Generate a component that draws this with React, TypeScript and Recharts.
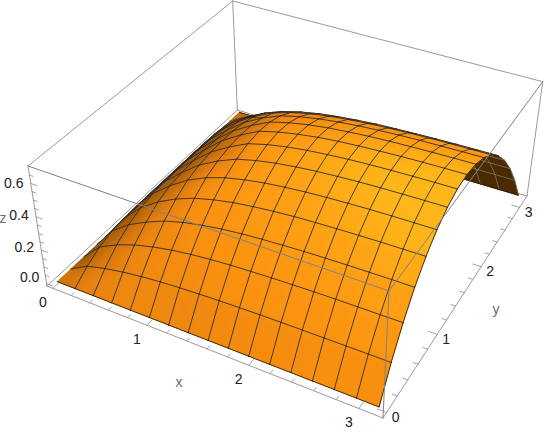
import React from 'react';
import { ScatterChart, Scatter, XAxis, YAxis } from 'recharts';

// ---- data ----
const xSamples = [0, 0.196, 0.393, 0.589, 0.785, 0.982, 1.178, 1.374, 1.571, 1.767, 1.963, 2.16, 2.356, 2.553, 2.749, 2.945, 3.142];
const ySamples = [0, 0.196, 0.393, 0.589, 0.785, 0.982, 1.178, 1.374, 1.571, 1.767, 1.963, 2.16, 2.356, 2.553, 2.749, 2.945, 3.142];
// z along y from the y=0 edge to the ridge, one row per x sample; the far half mirrors it
const zRow00 = [0, 0, 0, 0, 0, 0, 0, 0, 0];
const zRow01 = [0, 0.058, 0.098, 0.122, 0.131, 0.134, 0.135, 0.135, 0.135];
const zRow02 = [0, 0.085, 0.152, 0.2, 0.232, 0.247, 0.253, 0.255, 0.255];
const zRow03 = [0, 0.105, 0.191, 0.255, 0.305, 0.333, 0.345, 0.35, 0.352];
const zRow04 = [0, 0.12, 0.22, 0.301, 0.362, 0.405, 0.428, 0.44, 0.444];
const zRow05 = [0, 0.131, 0.242, 0.333, 0.405, 0.458, 0.49, 0.508, 0.514];
const zRow06 = [0, 0.139, 0.258, 0.356, 0.435, 0.496, 0.539, 0.565, 0.574];
const zRow07 = [0, 0.145, 0.27, 0.374, 0.458, 0.522, 0.568, 0.596, 0.605];
const zRow08 = [0, 0.15, 0.279, 0.387, 0.474, 0.542, 0.59, 0.619, 0.628];
const zRow09 = [0, 0.153, 0.285, 0.396, 0.486, 0.556, 0.606, 0.636, 0.646];
const zRow10 = [0, 0.156, 0.29, 0.403, 0.496, 0.567, 0.618, 0.648, 0.659];
const zRow11 = [0, 0.158, 0.294, 0.409, 0.502, 0.575, 0.627, 0.658, 0.668];
const zRow12 = [0, 0.159, 0.297, 0.413, 0.507, 0.581, 0.634, 0.665, 0.675];
const zRow13 = [0, 0.16, 0.299, 0.416, 0.511, 0.586, 0.639, 0.67, 0.681];
const zRow14 = [0, 0.161, 0.3, 0.418, 0.514, 0.589, 0.642, 0.674, 0.685];
const zRow15 = [0, 0.162, 0.301, 0.42, 0.516, 0.591, 0.645, 0.677, 0.688];
const zRow16 = [0, 0.162, 0.302, 0.421, 0.518, 0.593, 0.647, 0.679, 0.69];
const zRows = [zRow00, zRow01, zRow02, zRow03, zRow04, zRow05, zRow06, zRow07, zRow08, zRow09, zRow10, zRow11, zRow12, zRow13, zRow14, zRow15, zRow16];
const zPeak = 0.69;
const xyMax = 3.142;
const xTicks = [0, 1, 2, 3];
const yTicks = [0, 1, 2, 3];
const zTicks = [0, 0.2, 0.4, 0.6];
const zTickLabels = ['0.0', '0.2', '0.4', '0.6'];
const zLabelDy = [-6.6, -3, -2, 0];

// ---- view: the eight corners of the box as seen on the page ----
const W = 545, H = 436;
type P = [number, number];
const floorCorners: P[] = [[47, 286], [383, 418], [527, 196], [237.3, 110]];
const roofCorners: P[] = [[28, 166], [389, 291], [542.7, 81.7], [232.7, 1]];

function homography(q: P[]) {
  const [a, b, c, d] = q;
  const dx1 = b[0] - c[0], dx2 = d[0] - c[0], sx = a[0] - b[0] + c[0] - d[0];
  const dy1 = b[1] - c[1], dy2 = d[1] - c[1], sy = a[1] - b[1] + c[1] - d[1];
  const den = dx1 * dy2 - dx2 * dy1;
  const g = (sx * dy2 - dx2 * sy) / den;
  const h = (dx1 * sy - sx * dy1) / den;
  return (u: number, v: number): P => {
    const w = g * u + h * v + 1;
    return [
      ((b[0] * (1 + g) - a[0]) * u + (d[0] * (1 + h) - a[0]) * v + a[0]) / w,
      ((b[1] * (1 + g) - a[1]) * u + (d[1] * (1 + h) - a[1]) * v + a[1]) / w,
    ];
  };
}
const floorH = homography(floorCorners);
const roofH = homography(roofCorners);
const projBox = (u: number, v: number, w: number): P => {
  const f = floorH(u, v), r = roofH(u, v);
  return [f[0] + (r[0] - f[0]) * w, f[1] + (r[1] - f[1]) * w];
};
const toU = (x: number) => 0.02 + (0.96 * x) / xyMax;
const toW = (z: number) => 0.02 + (0.96 * z) / zPeak;
const proj = (x: number, y: number, z: number) => projBox(toU(x), toU(y), toW(z));

// ---- geometry derived from the arrays ----
const zAt = (i: number, j: number) => zRows[i][j <= 8 ? j : 16 - j];
const grid = xSamples.map((x, i) => ySamples.map((y, j) => proj(x, y, zAt(i, j))));

const ramp: [number, number, number, number][] = [
  [0, 60, 35, 0], [0.3, 150, 85, 5], [0.55, 225, 125, 15], [0.7, 250, 145, 15], [0.85, 255, 160, 20], [1, 255, 182, 25],
];
function rampColor(t: number) {
  const c = Math.max(0, Math.min(1, t));
  for (let k = 1; k < ramp.length; k++) {
    if (c <= ramp[k][0]) {
      const a = ramp[k - 1], b = ramp[k];
      const f = (c - a[0]) / (b[0] - a[0]);
      return `rgb(${a[1] + (b[1] - a[1]) * f},${a[2] + (b[2] - a[2]) * f},${a[3] + (b[3] - a[3]) * f})`;
    }
  }
  return 'rgb(255,182,25)';
}

type Facet = { px: number; py: number; poly: P[]; fill: string };
const frontFacets: Facet[] = [];
const backFacets: Facet[] = [];
const isFront: boolean[][] = [];
for (let i = 0; i < xSamples.length - 1; i++) {
  isFront.push([]);
  for (let j = 0; j < ySamples.length - 1; j++) {
    const q = [grid[i][j], grid[i + 1][j], grid[i + 1][j + 1], grid[i][j + 1]];
    let area = 0;
    q.forEach((a, k) => {
      const b = q[(k + 1) % 4];
      area += a[0] * b[1] - b[0] * a[1];
    });
    const front = area < 0 || i === 0;
    isFront[i].push(front);
    const cx = (q[0][0] + q[1][0] + q[2][0] + q[3][0]) / 4;
    const cy = (q[0][1] + q[1][1] + q[2][1] + q[3][1]) / 4;
    const dzx = ((zAt(i + 1, j) + zAt(i + 1, j + 1) - zAt(i, j) - zAt(i, j + 1)) / 2) / (xSamples[i + 1] - xSamples[i]) * (xyMax * 0.4) / zPeak;
    const dzy = ((zAt(i, j + 1) + zAt(i + 1, j + 1) - zAt(i, j) - zAt(i + 1, j)) / 2) / (ySamples[j + 1] - ySamples[j]) * (xyMax * 0.4) / zPeak;
    const len = Math.hypot(dzx, dzy, 1);
    const lam = Math.max(0, (-dzx * 0.5 + dzy * 0.24 + 0.925) / len);
    const d = Math.hypot(cx - 445, cy - 230);
    const xMid = (xSamples[i] + xSamples[i + 1]) / 2;
    const t = lam * 1.14 * (1 - 0.3 * Math.min(1, d / 330)) * (0.76 + 0.24 * Math.min(1, xMid / 0.7));
    const facet = { px: cx, py: cy, poly: q.map((p) => [p[0] - cx, p[1] - cy] as P), fill: front ? rampColor(t) : '#4b2a00' };
    (front ? frontFacets : backFacets).push(facet);
  }
}

type Seg = { px: number; py: number; dx: number; dy: number; stroke: string; sw: number };
const seg = (a: P, b: P, stroke: string, sw: number): Seg => ({ px: a[0], py: a[1], dx: b[0] - a[0], dy: b[1] - a[1], stroke, sw });
const frontMesh: Seg[] = [];
const backMesh: Seg[] = [];
const nx = xSamples.length, ny = ySamples.length;
const meshColor = 'rgba(40,40,48,0.85)';
const faintMesh = 'rgba(50,40,30,0.4)';
const rimColor = 'rgba(25,15,0,0.9)';
for (let i = 1; i < nx; i++) {
  const rim = i === nx - 1;
  for (let j = 0; j < ny - 1; j++) {
    const f = (i < nx - 1 && isFront[i][j]) || isFront[i - 1][j];
    const stroke = rim ? rimColor : j >= 12 ? faintMesh : meshColor;
    (f ? frontMesh : backMesh).push(seg(grid[i][j], grid[i][j + 1], f ? stroke : 'rgba(120,120,120,0.7)', rim ? 0.9 : 1));
  }
}
for (let j = 0; j < ny; j++) {
  const rim = j === 0 || j === ny - 1;
  for (let i = 0; i < nx - 1; i++) {
    const f = (j < ny - 1 && isFront[i][j]) || (j > 0 && isFront[i][j - 1]);
    const stroke = rim ? rimColor : j >= 13 ? faintMesh : meshColor;
    (f ? frontMesh : backMesh).push(seg(grid[i][j], grid[i + 1][j], f ? stroke : rim ? rimColor : 'rgba(120,120,120,0.7)', rim ? 0.9 : 1));
  }
}

const boxColor = '#9a9a9a';
const overColor = '#828282';
const [f0, f1, f2, f3] = floorCorners;
const [r0, r1, r2, r3] = roofCorners;
const backEdges = [seg(f0, f3, boxColor, 1), seg(f3, f2, boxColor, 1), seg(f3, r3, boxColor, 1)];
const frontEdges = [
  seg(f0, f1, boxColor, 1), seg(f1, f2, boxColor, 1), seg(f0, r0, boxColor, 1), seg(f1, r1, overColor, 1), seg(f2, r2, boxColor, 1),
  seg(r0, r1, overColor, 1), seg(r1, r2, overColor, 1), seg(r2, r3, boxColor, 1), seg(r3, r0, boxColor, 1),
];
const tickColor = '#8c8c8c';
const tickSegs: Seg[] = [];
for (let k = 0; k <= 15; k++) {
  const t = k * 0.2;
  const major = k % 5 === 0;
  const a = projBox(toU(t), 0, 0);
  const b = projBox(toU(t), major ? 0.024 : 0.013, 0);
  tickSegs.push(seg(a, b, tickColor, 0.8));
  const c = projBox(1, toU(t), 0);
  const e = projBox(1 - (major ? 0.024 : 0.013), toU(t), 0);
  tickSegs.push(seg(c, e, tickColor, 0.8));
}
for (let k = 0; k <= 13; k++) {
  const t = k * 0.05;
  const major = k % 4 === 0;
  const a = projBox(0, 0, toW(t));
  const b = projBox(major ? 0.02 : 0.012, 0, toW(t));
  tickSegs.push(seg(a, b, tickColor, 0.8));
}

type Lbl = { px: number; py: number; text: string; color: string };
const at = (p: P, dx: number, dy: number, text: string, color: string): Lbl => ({ px: p[0] + dx, py: p[1] + dy, text, color });
const labelColor = '#222222';
const axisColor = '#6e6e6e';
const labels: Lbl[] = [
  ...xTicks.map((t) => at(projBox(toU(t), 0, 0), -10, 13.5, String(t), labelColor)),
  ...yTicks.map((t) => at(projBox(1, toU(t), 0), 9, 4.7, String(t), labelColor)),
  ...zTicks.map((t, k) => at(projBox(0, 0, toW(t)), -17, zLabelDy[k], zTickLabels[k], labelColor)),
  at(projBox(0.5, 0, 0), -25, 34, 'x', axisColor),
  at(projBox(1, 0.5, 0), 33, 14.4, 'y', axisColor),
  at(projBox(0, 0, 0.5), -34.5, -8, 'z', axisColor),
];

// ---- shapes: each takes its place from the scaled cx, cy ----
const FacetShape = (props: any) => {
  const { cx, cy, payload } = props;
  const pts = payload.poly.map((p: P) => `${cx + p[0]},${cy + p[1]}`).join(' ');
  return <polygon points={pts} fill={payload.fill} stroke={payload.fill} strokeWidth={0.6} />;
};
const SegShape = (props: any) => {
  const { cx, cy, payload } = props;
  return <line x1={cx} y1={cy} x2={cx + payload.dx} y2={cy + payload.dy} stroke={payload.stroke} strokeWidth={payload.sw} strokeLinecap="round" />;
};
const LabelShape = (props: any) => {
  const { cx, cy, payload } = props;
  return (
    <text x={cx} y={cy} textAnchor="middle" dominantBaseline="central" fontFamily="'Liberation Sans', Arial, sans-serif" fontSize={14} fill={payload.color}>
      {payload.text}
    </text>
  );
};

export default function App() {
  return (
    <div style={{ position: 'absolute', left: 0, top: 0, width: W, height: H }}>
      <style>{`.surf-blur{filter:blur(6px);clip-path:url(#frontClip);}`}</style>
      <ScatterChart width={W} height={H} margin={{ top: 0, right: 0, bottom: 0, left: 0 }}>
        <defs>
          <clipPath id="frontClip">
            {frontFacets.map((f, k) => (
              <polygon key={k} points={f.poly.map((p) => `${f.px + p[0]},${f.py + p[1]}`).join(' ')} />
            ))}
          </clipPath>
        </defs>
        <XAxis type="number" dataKey="px" domain={[0, W]} hide allowDataOverflow />
        <YAxis type="number" dataKey="py" domain={[0, H]} reversed hide allowDataOverflow width={0} />
        <Scatter data={backEdges} shape={SegShape} isAnimationActive={false} />
        <Scatter data={backFacets} shape={FacetShape} isAnimationActive={false} />
        <Scatter data={backMesh} shape={SegShape} isAnimationActive={false} />
        <Scatter data={frontFacets} shape={FacetShape} isAnimationActive={false} />
        <Scatter data={frontFacets} shape={FacetShape} className="surf-blur" isAnimationActive={false} />
        <Scatter data={frontMesh} shape={SegShape} isAnimationActive={false} />
        <Scatter data={frontEdges} shape={SegShape} isAnimationActive={false} />
        <Scatter data={tickSegs} shape={SegShape} isAnimationActive={false} />
        <Scatter data={labels} shape={LabelShape} isAnimationActive={false} />
      </ScatterChart>
    </div>
  );
}
